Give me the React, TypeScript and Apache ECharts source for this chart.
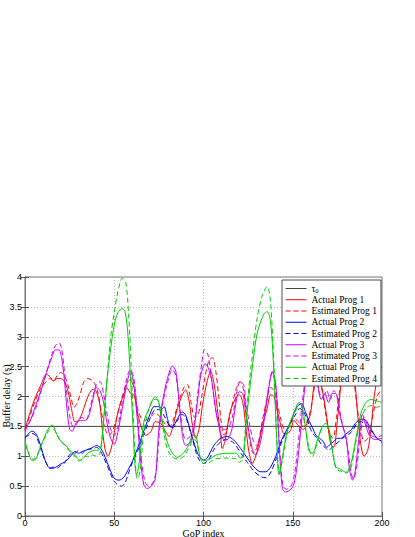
import React, { useEffect, useRef } from "react";
import * as echarts from "echarts";

type P = [number, number][];

const xTicks = [0, 50, 100, 150, 200];
const tau0 = 1.5;
const yAxisTitle = "Buffer delay (s)";
const xAxisTitle = "GoP index";

const prog1Actual: P = [
  [0, 1.45], [3, 1.75], [6, 2.0], [9, 2.2], [12, 2.37], [14, 2.33], [16, 2.26], [18, 2.3], [20, 2.3], [22, 2.25],
  [24, 2.1], [26, 1.8], [28, 1.58], [30, 1.6], [32, 1.72], [34, 1.9], [36, 2.05], [38, 2.12], [40, 2.08], [42, 1.85],
  [43.5, 1.4], [45, 1.1], [46.5, 1.0], [48, 1.1], [49.5, 1.3], [51.7, 1.69], [54.5, 1.97], [57.3, 2.14], [59.2, 2.05],
  [61, 2.03], [63, 1.74], [64.8, 1.52], [67.6, 1.35], [70.5, 1.41], [73, 1.58], [76, 1.55], [78.8, 1.41], [80.7, 1.33],
  [82.6, 1.47], [85.4, 1.8], [88.2, 2.03], [90, 2.11], [92, 1.91], [93.8, 1.52], [95.7, 1.3], [97.6, 1.47], [99.4, 1.85],
  [102, 2.25], [104, 2.42], [106, 2.2], [107.7, 1.8], [109.6, 1.35], [110.5, 1.13], [112, 1.25], [115, 1.75], [118, 1.97],
  [120, 2.03], [122, 1.9], [123.6, 1.52], [125.4, 1.08], [127.3, 0.88], [130, 1.08], [133, 1.52], [135.7, 1.8],
  [137.6, 2.03], [139.5, 2.0], [141.4, 1.75], [143.5, 1.5], [145, 1.38], [147, 1.38], [149, 1.45], [150.6, 1.6],
  [153.5, 1.5], [156, 1.45], [158, 1.55], [160, 1.72], [161.5, 2.1], [163, 2.35], [165, 2.3], [167.6, 1.94], [169.5, 1.55],
  [171.3, 1.2], [173, 1.15], [175, 1.6], [177, 2.2], [179, 2.6], [181, 2.7], [184.5, 2.3], [186.3, 1.72], [188, 1.22],
  [190, 1.0], [192, 1.1], [193.8, 1.44], [195.6, 2.0], [198.5, 2.45], [200, 2.5],
];

const prog1Estimated: P = [
  [0, 1.45], [3, 1.7], [6, 1.95], [9, 2.15], [12, 2.25], [14, 2.3], [16, 2.25], [18, 2.35], [20, 2.4], [22, 2.35],
  [24, 2.2], [26, 1.95], [27.5, 1.82], [29, 1.88], [31, 2.05], [33, 2.25], [35, 2.3], [37, 2.28], [39, 2.22], [41, 2.05],
  [43, 1.7], [45, 1.45], [47, 1.35], [49, 1.42], [51, 1.6], [54, 1.95], [57, 2.22], [59, 2.28], [61, 2.15], [63, 1.8],
  [65, 1.65], [67, 1.6], [70, 1.65], [73, 1.72], [76, 1.65], [79, 1.52], [81, 1.5], [83, 1.6], [86, 1.9], [89, 2.15],
  [91, 2.2], [93, 1.9], [95, 1.65], [97, 1.7], [99, 2.0], [101, 2.35], [103, 2.6], [105, 2.65], [107, 2.4], [108.5, 2.0],
  [110, 1.55], [111.5, 1.35], [113, 1.45], [116, 1.85], [118.5, 2.15], [120.5, 2.25], [122.5, 2.1], [124, 1.7], [126, 1.25],
  [128, 1.05], [130.5, 1.2], [133, 1.6], [135.5, 1.95], [137.5, 2.15], [139.5, 2.1], [141.5, 1.85], [143.5, 1.6],
  [145.5, 1.45], [148, 1.48], [150.5, 1.65], [153, 1.58], [156, 1.5], [158.5, 1.62], [160.5, 1.85], [162.5, 2.2],
  [164.5, 2.3], [166.5, 2.1], [168.5, 1.7], [170.5, 1.4], [172.5, 1.3], [174.5, 1.65], [176.5, 2.15], [178.5, 2.5],
  [181, 2.6], [184, 2.3], [186, 1.85], [188, 1.45], [190, 1.25], [192, 1.3], [194, 1.55], [196, 1.85], [198, 2.05], [200, 2.1],
];

const prog2Actual: P = [
  [0, 1.3], [2, 1.38], [4, 1.42], [6, 1.38], [8, 1.25], [10, 1.05], [12, 0.88], [14, 0.8], [16, 0.8], [18, 0.83],
  [20, 0.87], [22, 0.9], [24, 0.95], [26, 1.02], [28, 1.08], [30, 1.05], [32, 1.08], [34, 1.1], [36, 1.12], [38, 1.15],
  [40, 1.18], [42, 1.15], [44, 1.05], [46, 0.9], [48, 0.75], [50, 0.63], [52.6, 0.6], [55.4, 0.65], [58.2, 0.8],
  [60.1, 0.91], [63, 1.13], [65.7, 1.35], [68.5, 1.58], [70.5, 1.74], [72.2, 1.83], [75, 1.83], [77, 1.8], [78, 1.83],
  [79.8, 1.63], [81.6, 1.49], [83.5, 1.52], [85.4, 1.63], [88.2, 1.74], [90, 1.69], [92.8, 1.41], [95.7, 1.13], [97.6, 1.0],
  [100, 0.94], [102, 0.97], [105.8, 1.18], [109.6, 1.3], [113.4, 1.33], [117, 1.27], [120.8, 1.13], [124.5, 0.97],
  [128.3, 0.82], [132, 0.74], [134.9, 0.74], [137.6, 0.82], [140.5, 1.0], [143.3, 1.24], [146, 1.41], [149, 1.58],
  [151, 1.75], [153, 1.85], [155, 1.88], [157, 1.75], [159, 1.6], [161, 1.48], [163, 1.35], [165, 1.3], [167, 1.25],
  [169, 1.15], [171, 1.2], [173, 1.25], [175, 1.3], [177, 1.3], [179, 1.35], [181, 1.4], [183, 1.45], [185, 1.55],
  [187, 1.6], [189, 1.62], [191, 1.6], [193, 1.5], [195, 1.4], [197, 1.3], [200, 1.25],
];

const prog2Estimated: P = [
  [0, 1.32], [2, 1.35], [4, 1.38], [6, 1.35], [8, 1.2], [10, 1.02], [12, 0.88], [14, 0.8], [16, 0.82], [18, 0.8],
  [20, 0.85], [22, 0.88], [24, 0.98], [26, 1.05], [28, 1.05], [30, 1.1], [32, 1.05], [34, 1.1], [36, 1.12], [38, 1.12],
  [40, 1.15], [42, 1.1], [44, 0.98], [46, 0.85], [48, 0.7], [50, 0.58], [52, 0.52], [54, 0.5], [56, 0.55], [58, 0.72],
  [60, 0.88], [63, 1.08], [66, 1.32], [69, 1.55], [71, 1.7], [73, 1.78], [75, 1.78], [77, 1.72], [79, 1.62], [81, 1.5],
  [83, 1.48], [85, 1.58], [88, 1.7], [90, 1.65], [93, 1.38], [96, 1.05], [98, 0.92], [100, 0.88], [103, 0.95], [106, 1.12],
  [110, 1.25], [113, 1.28], [117, 1.22], [121, 1.05], [124.5, 0.9], [128, 0.76], [132, 0.66], [135, 0.64], [138, 0.75],
  [141, 0.98], [144, 1.25], [147, 1.45], [150, 1.62], [152, 1.72], [154, 1.8], [156, 1.75], [158, 1.62], [160, 1.45],
  [162, 1.35], [164, 1.3], [166, 1.2], [168, 1.15], [170, 1.1], [172, 1.15], [174, 1.2], [176, 1.25], [178, 1.3],
  [180, 1.35], [182, 1.38], [184, 1.45], [186, 1.55], [188, 1.58], [190, 1.55], [192, 1.5], [194, 1.42], [196, 1.35],
  [198, 1.28], [200, 1.22],
];

const prog3Actual: P = [
  [0, 1.45], [3, 1.6], [6, 1.85], [9, 2.1], [12, 2.4], [15, 2.65], [17, 2.78], [19, 2.78], [20.5, 2.65], [22, 2.3],
  [23.5, 1.8], [25, 1.45], [26.5, 1.42], [28.5, 1.55], [31, 1.6], [34, 1.6], [36, 1.7], [38, 1.95], [40, 2.15], [42, 2.1],
  [44, 1.9], [46, 1.55], [48, 1.3], [50, 1.2], [52, 1.4], [54.5, 1.8], [57.3, 2.25], [59.2, 2.42], [61, 2.19], [63, 1.58],
  [64.8, 0.91], [66.6, 0.52], [68.5, 0.46], [71.4, 0.52], [73, 0.63], [74, 1.0], [75, 1.46], [77, 1.91], [79.8, 2.3],
  [82.6, 2.51], [84.5, 2.42], [86.3, 1.91], [88.2, 1.35], [90, 1.18], [92.8, 1.24], [94.7, 1.46], [96.6, 1.91],
  [98.5, 2.36], [101, 2.55], [104, 2.36], [106.7, 1.8], [108.5, 1.52], [110.5, 1.3], [112.4, 1.27], [114, 1.3],
  [116, 1.46], [118, 1.86], [120, 2.08], [122, 2.05], [123.6, 1.74], [125.4, 1.41], [127.3, 1.13], [129, 1.02],
  [131, 1.13], [133, 1.41], [134.9, 1.8], [136.6, 2.14], [138.5, 2.42], [140.5, 2.2], [142.3, 1.24], [144.2, 0.46],
  [146, 0.4], [149, 0.45], [150.8, 0.55], [152.6, 0.88], [154.5, 1.44], [156.2, 2.0], [158, 2.44], [160, 2.7], [162, 2.6],
  [164, 2.2], [166, 1.95], [168, 2.05], [170, 1.9], [172, 2.05], [174, 2.05], [176, 1.75], [178, 1.5], [180, 1.3],
  [181.7, 0.8], [183.5, 0.6], [185, 0.75], [187, 1.3], [189, 1.7], [191, 1.5], [193, 1.35], [196, 1.28], [200, 1.3],
];

const prog3Estimated: P = [
  [0, 1.42], [3, 1.6], [6, 1.8], [9, 2.1], [12, 2.4], [15, 2.7], [17, 2.85], [19, 2.9], [20.5, 2.8], [22, 2.45],
  [23.8, 1.95], [25.5, 1.6], [27, 1.5], [28.5, 1.52], [30, 1.6], [32, 1.65], [34, 1.6], [36, 1.75], [38, 2.0], [40, 2.2],
  [42, 2.25], [44, 2.05], [46, 1.7], [48, 1.45], [50, 1.35], [52, 1.5], [54.5, 1.9], [57, 2.3], [59, 2.45], [61, 2.3],
  [63, 1.7], [65, 1.0], [67, 0.6], [69, 0.5], [71.5, 0.55], [73.5, 0.75], [75, 1.3], [77, 1.85], [80, 2.25], [82.6, 2.45],
  [84.5, 2.35], [86.3, 1.95], [88.2, 1.45], [90, 1.28], [93, 1.35], [95, 1.6], [97, 2.1], [99, 2.55], [100.5, 2.78],
  [102.5, 2.7], [104.5, 2.3], [106.7, 1.8], [108.5, 1.55], [110.5, 1.45], [112.5, 1.45], [114.5, 1.5], [116.5, 1.7],
  [118.5, 2.05], [120.5, 2.25], [122.5, 2.2], [124, 1.85], [126, 1.5], [128, 1.25], [129.5, 1.18], [131.5, 1.3],
  [133.5, 1.6], [135.5, 1.95], [137, 2.25], [138.5, 2.4], [140.5, 2.15], [142.5, 1.2], [144.5, 0.5], [146.5, 0.45],
  [149, 0.5], [151, 0.7], [153, 1.2], [155, 1.8], [157, 2.3], [159, 2.75], [161, 2.8], [163, 2.4], [165, 2.05], [167, 2.0],
  [169, 2.1], [171, 1.95], [173, 2.1], [175, 2.0], [177, 1.65], [179, 1.4], [181, 1.1], [182.5, 0.75], [184, 0.62],
  [186, 0.85], [188, 1.4], [190, 1.65], [192, 1.5], [194, 1.35], [197, 1.32], [200, 1.35],
];

const prog4Actual: P = [
  [0, 1.25], [2, 1.05], [4, 0.93], [6, 0.95], [8, 1.1], [10, 1.25], [12, 1.4], [14, 1.5], [15.5, 1.52], [17, 1.42],
  [19, 1.3], [21, 1.22], [23, 1.18], [25, 1.1], [27, 1.05], [29, 0.98], [31, 0.93], [33, 0.98], [35, 1.05], [37, 1.08],
  [39, 1.1], [41, 1.1], [42.5, 1.15], [44, 1.6], [46, 2.3], [48, 2.8], [50, 3.2], [52, 3.4], [54.5, 3.47], [56, 3.42],
  [57.5, 3.1], [59, 2.36], [60.5, 1.52], [61.5, 0.9], [62.5, 0.69], [64, 0.9], [66.6, 1.58], [69.5, 1.8], [73, 2.0],
  [75, 1.9], [77, 1.58], [79.7, 1.24], [82.6, 1.05], [85.4, 0.98], [88, 1.03], [91, 1.15], [93.6, 1.33], [95.5, 1.35],
  [97, 1.15], [99, 0.93], [101.6, 0.93], [107, 1.02], [113, 1.05], [118.5, 1.05], [120.5, 0.97], [122.4, 1.0], [124, 1.6],
  [127, 2.4], [130, 3.05], [133.8, 3.38], [135.7, 3.42], [137.6, 3.25], [139.5, 2.36], [141, 1.3], [142.3, 0.69], [144, 0.95],
  [147, 1.44], [150.6, 1.72], [153.5, 1.9], [155.4, 1.82], [157.3, 1.44], [159, 1.1], [161, 1.05], [163.8, 1.27],
  [166.6, 1.5], [168.5, 1.55], [170.4, 1.44], [172.2, 1.1], [174, 0.83], [177, 0.78], [179.8, 0.73], [182.6, 0.88],
  [184.5, 1.16], [186.3, 1.44], [188.2, 1.72], [191, 1.9], [193.8, 1.95], [196.6, 1.93], [200, 1.9],
];

const prog4Estimated: P = [
  [0, 1.2], [2, 1.05], [4, 0.95], [6, 0.97], [8, 1.1], [10, 1.25], [12, 1.35], [14, 1.45], [16, 1.45], [18, 1.35],
  [20, 1.25], [22, 1.2], [24, 1.12], [26, 1.05], [28, 1.0], [30, 0.92], [32, 0.95], [34, 1.0], [36, 1.0], [38, 1.02],
  [40, 1.0], [42, 1.05], [43.5, 1.4], [45.5, 2.1], [48, 3.0], [50, 3.4], [52, 3.75], [54.5, 3.98], [56.5, 3.9], [58, 3.4],
  [59.5, 2.5], [61, 1.4], [62, 0.8], [63, 0.62], [64.5, 0.75], [66.5, 1.4], [69, 1.75], [72, 1.95], [74, 1.95], [76, 1.7],
  [78, 1.35], [80, 1.1], [83, 0.98], [86, 0.95], [89, 1.0], [92, 1.15], [94.5, 1.28], [96, 1.25], [98, 1.0], [100, 0.88],
  [102, 0.88], [106, 0.95], [112, 0.97], [118, 0.96], [120, 0.9], [122, 0.95], [124, 1.7], [127, 2.6], [130, 3.3],
  [133, 3.7], [135.7, 3.84], [137.5, 3.6], [139.5, 2.5], [141, 1.3], [142.5, 0.72], [144, 0.9], [147, 1.4], [150, 1.65],
  [153, 1.8], [155, 1.75], [157, 1.5], [159, 1.15], [161, 1.0], [163.5, 1.2], [166, 1.45], [168.5, 1.5], [170.5, 1.4],
  [172.5, 1.05], [174.5, 0.78], [177, 0.75], [180, 0.72], [182.5, 0.8], [184.5, 1.1], [186.5, 1.4], [188.5, 1.65],
  [191, 1.8], [194, 1.85], [197, 1.82], [200, 1.85],
];

const RED = "#ff0000";
const BLUE = "#0000ff";
const MAGENTA = "#cc00ff";
const GREEN = "#00cc00";
const DASH = [5, 3];

export default function App() {
  const ref = useRef<HTMLDivElement>(null);
  useEffect(() => {
    document.body.style.margin = "0";
    if (!ref.current) return;
    const chart = echarts.init(ref.current, undefined, { renderer: "svg" });
    const line = (name: string, data: P, color: string, dashed: boolean) => ({
      name,
      type: "line",
      data,
      showSymbol: false,
      symbol: "none",
      smooth: 0.3,
      color,
      lineStyle: { color, width: 1, type: dashed ? DASH : "solid" },
      z: 3,
    });
    const axisCommon = {
      type: "value" as const,
      axisTick: { show: true, inside: true, length: 4, lineStyle: { color: "#555" } },
      axisLine: { show: true, lineStyle: { color: "#777", width: 1 } },
    };
    chart.setOption({
      animation: false,
      backgroundColor: "#fff",
      grid: {
        left: 25,
        right: 33,
        top: 277,
        bottom: 21,
        show: true,
        borderColor: "#777",
        borderWidth: 1,
        containLabel: false,
        outerBoundsMode: "none",
      },
      graphic: [
        {
          type: "text",
          x: 6,
          y: 396,
          rotation: Math.PI / 2,
          style: {
            text: yAxisTitle,
            fontFamily: "Liberation Serif",
            fontSize: 10,
            fill: "#000",
            align: "center",
            verticalAlign: "middle",
          },
        },
      ],
      legend: {
        orient: "vertical",
        left: 282,
        top: 280,
        itemWidth: 21,
        itemHeight: 8,
        itemGap: 0.25,
        padding: [3, 4, 2, 3],
        backgroundColor: "#fff",
        borderColor: "#222",
        borderWidth: 0.8,
        borderRadius: 0,
        itemStyle: { opacity: 0 },
        lineStyle: { width: 1 },
        textStyle: {
          fontFamily: "Liberation Serif",
          fontSize: 9.5,
          lineHeight: 11,
          color: "#000",
          rich: {
            t: { fontFamily: "Liberation Serif", fontSize: 9.5, color: "#000" },
            s: { fontFamily: "Liberation Serif", fontSize: 6.5, color: "#000", padding: [4, 0, 0, 0] },
          },
        },
        formatter: (name: string) => (name === "τ0" ? "{t|τ}{s|0}" : name),
        data: [
          "τ0",
          "Actual Prog 1",
          "Estimated Prog 1",
          "Actual Prog 2",
          "Estimated Prog 2",
          "Actual Prog 3",
          "Estimated Prog 3",
          "Actual Prog 4",
          "Estimated Prog 4",
        ],
      },
      xAxis: [
        {
          ...axisCommon,
          min: 0,
          max: 200,
          interval: 50,
          name: xAxisTitle,
          nameLocation: "middle",
          nameGap: 12,
          nameTextStyle: { fontFamily: "Liberation Serif", fontSize: 10, color: "#000" },
          axisLabel: { fontFamily: "Liberation Sans", fontSize: 9, color: "#000", margin: 2 },
          splitLine: { show: true, lineStyle: { color: "#aaa", type: [1, 2], width: 0.8 } },
        },
        {
          ...axisCommon,
          position: "top",
          min: 0,
          max: 200,
          interval: 50,
          axisLabel: { show: false },
          splitLine: { show: false },
        },
      ],
      yAxis: [
        {
          ...axisCommon,
          min: 0,
          max: 4,
          interval: 0.5,
          axisLabel: { fontFamily: "Liberation Sans", fontSize: 9, color: "#000", margin: 3 },
          splitLine: { show: true, lineStyle: { color: "#aaa", type: [1, 2], width: 0.8 } },
        },
        {
          ...axisCommon,
          position: "right",
          min: 0,
          max: 4,
          interval: 0.5,
          axisLabel: { show: false },
          splitLine: { show: false },
        },
      ],
      series: [
        {
          name: "τ0",
          type: "line",
          data: [[xTicks[0], tau0], [xTicks[xTicks.length - 1], tau0]],
          symbol: "none",
          color: "#444",
          lineStyle: { color: "#444", width: 1 },
          z: 2,
        },
        line("Actual Prog 1", prog1Actual, RED, false),
        line("Estimated Prog 1", prog1Estimated, RED, true),
        line("Actual Prog 2", prog2Actual, BLUE, false),
        line("Estimated Prog 2", prog2Estimated, BLUE, true),
        line("Actual Prog 3", prog3Actual, MAGENTA, false),
        line("Estimated Prog 3", prog3Estimated, MAGENTA, true),
        line("Actual Prog 4", prog4Actual, GREEN, false),
        line("Estimated Prog 4", prog4Estimated, GREEN, true),
      ],
    });
    return () => chart.dispose();
  }, []);
  return <div ref={ref} style={{ width: 415, height: 537 }} />;
}
